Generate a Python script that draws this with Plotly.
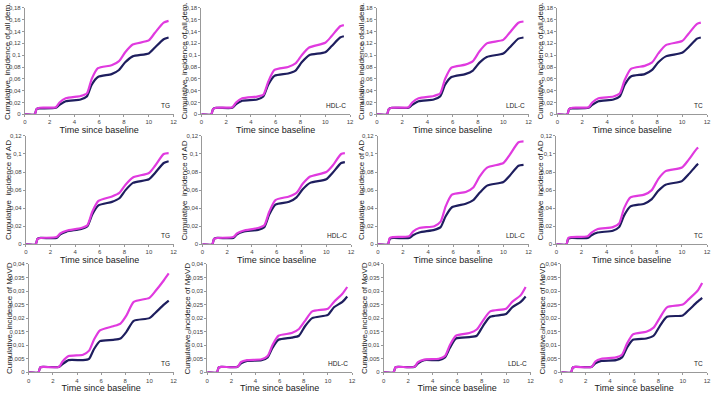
import plotly.graph_objects as go

# common time grid (years since baseline)
TIMES = [0, 0.8, 0.95, 1.2, 2.5, 2.8, 3.3, 4.5, 5.0, 5.4, 5.9, 7.0, 7.6, 8.1, 8.7, 10.0, 10.5, 11.2, 11.6]
END_TIME = [11.6, 11.5, 11.6, 11.5, 11.6, 11.5, 11.6, 11.3, 11.6, 11.6, 11.6, 11.6]

PANEL_LABELS = ["TG", "HDL-C", "LDL-C", "TC"] * 3
Y_TITLES = ["Cumulative  incidence of all dem.", "Cumulative  incidence of AD", "Cumulative  incidence of MoVD"]
X_TITLE = "Time since baseline"

Y_MAX = [0.18, 0.12, 0.04]
Y_TICKS = [
    [0, 0.02, 0.04, 0.06, 0.08, 0.1, 0.12, 0.14, 0.16, 0.18],
    [0, 0.02, 0.04, 0.06, 0.08, 0.1, 0.12],
    [0, 0.005, 0.01, 0.015, 0.02, 0.025, 0.03, 0.035, 0.04],
]
Y_TICKTEXT = [
    ["0", "0,02", "0,04", "0,06", "0,08", "0,1", "0,12", "0,14", "0,16", "0,18"],
    ["0", "0,02", "0,04", "0,06", "0,08", "0,1", "0,12"],
    ["0", "0,005", "0,01", "0,015", "0,02", "0,025", "0,03", "0,035", "0,04"],
]
X_TICKS = [0, 2, 4, 6, 8, 10, 12]

# magenta curves (higher group)
MAG = [
    [0, 0, 0.009, 0.011, 0.012, 0.020, 0.027, 0.031, 0.035, 0.060, 0.078, 0.083, 0.090, 0.105, 0.118, 0.125, 0.138, 0.155, 0.158],
    [0, 0, 0.009, 0.011, 0.012, 0.020, 0.027, 0.030, 0.033, 0.055, 0.075, 0.080, 0.086, 0.100, 0.113, 0.121, 0.132, 0.149, 0.151],
    [0, 0, 0.009, 0.011, 0.012, 0.020, 0.027, 0.031, 0.035, 0.060, 0.079, 0.084, 0.090, 0.106, 0.120, 0.126, 0.138, 0.155, 0.157],
    [0, 0, 0.009, 0.011, 0.012, 0.020, 0.027, 0.030, 0.035, 0.058, 0.077, 0.082, 0.088, 0.103, 0.117, 0.124, 0.136, 0.153, 0.155],
    [0, 0, 0.006, 0.007, 0.008, 0.012, 0.015, 0.018, 0.021, 0.036, 0.048, 0.053, 0.057, 0.066, 0.074, 0.079, 0.087, 0.100, 0.101],
    [0, 0, 0.006, 0.007, 0.008, 0.012, 0.015, 0.018, 0.021, 0.036, 0.049, 0.053, 0.057, 0.067, 0.075, 0.080, 0.087, 0.100, 0.101],
    [0, 0, 0.007, 0.008, 0.009, 0.014, 0.018, 0.020, 0.025, 0.042, 0.055, 0.058, 0.063, 0.075, 0.085, 0.090, 0.099, 0.113, 0.114],
    [0, 0, 0.007, 0.008, 0.009, 0.013, 0.017, 0.019, 0.023, 0.040, 0.052, 0.055, 0.060, 0.072, 0.081, 0.085, 0.093, 0.106, 0.107],
    [0, 0, 0.0018, 0.002, 0.002, 0.004, 0.006, 0.0065, 0.008, 0.012, 0.0155, 0.017, 0.018, 0.021, 0.026, 0.0275, 0.030, 0.034, 0.0365],
    [0, 0, 0.0018, 0.002, 0.002, 0.0038, 0.0045, 0.0048, 0.006, 0.010, 0.0135, 0.0145, 0.016, 0.019, 0.0225, 0.0235, 0.026, 0.029, 0.0315],
    [0, 0, 0.0018, 0.002, 0.002, 0.0038, 0.0047, 0.005, 0.006, 0.010, 0.0135, 0.0145, 0.0158, 0.019, 0.0225, 0.0235, 0.026, 0.0285, 0.0315],
    [0, 0, 0.0018, 0.002, 0.002, 0.004, 0.005, 0.0055, 0.0065, 0.0105, 0.014, 0.015, 0.0165, 0.020, 0.024, 0.025, 0.027, 0.030, 0.033],
]
# navy curves (lower group)
NAVY = [
    [0, 0, 0.009, 0.010, 0.011, 0.016, 0.022, 0.025, 0.030, 0.050, 0.063, 0.068, 0.075, 0.088, 0.098, 0.103, 0.113, 0.127, 0.130],
    [0, 0, 0.009, 0.011, 0.011, 0.017, 0.023, 0.025, 0.030, 0.050, 0.065, 0.069, 0.074, 0.088, 0.100, 0.105, 0.115, 0.130, 0.132],
    [0, 0, 0.009, 0.011, 0.011, 0.016, 0.022, 0.025, 0.030, 0.050, 0.063, 0.068, 0.074, 0.087, 0.097, 0.103, 0.113, 0.128, 0.130],
    [0, 0, 0.009, 0.010, 0.011, 0.016, 0.022, 0.025, 0.030, 0.050, 0.064, 0.068, 0.075, 0.088, 0.098, 0.104, 0.113, 0.128, 0.130],
    [0, 0, 0.006, 0.007, 0.007, 0.011, 0.014, 0.017, 0.020, 0.033, 0.043, 0.047, 0.051, 0.060, 0.068, 0.072, 0.079, 0.090, 0.092],
    [0, 0, 0.006, 0.007, 0.007, 0.011, 0.014, 0.016, 0.019, 0.033, 0.044, 0.047, 0.052, 0.061, 0.068, 0.072, 0.079, 0.090, 0.091],
    [0, 0, 0.006, 0.007, 0.007, 0.010, 0.013, 0.016, 0.019, 0.031, 0.041, 0.045, 0.049, 0.057, 0.065, 0.069, 0.076, 0.087, 0.088],
    [0, 0, 0.006, 0.007, 0.007, 0.010, 0.013, 0.015, 0.019, 0.032, 0.042, 0.045, 0.050, 0.059, 0.066, 0.070, 0.077, 0.088, 0.089],
    [0, 0, 0.0018, 0.002, 0.002, 0.003, 0.0045, 0.0045, 0.005, 0.0085, 0.0115, 0.012, 0.0125, 0.015, 0.019, 0.020, 0.022, 0.025, 0.0265],
    [0, 0, 0.0018, 0.002, 0.002, 0.0033, 0.0042, 0.0045, 0.0055, 0.009, 0.012, 0.0128, 0.0135, 0.017, 0.020, 0.0212, 0.024, 0.026, 0.028],
    [0, 0, 0.0018, 0.002, 0.002, 0.0033, 0.0045, 0.0045, 0.0055, 0.009, 0.0125, 0.013, 0.0135, 0.017, 0.0205, 0.0215, 0.024, 0.026, 0.028],
    [0, 0, 0.0018, 0.002, 0.002, 0.0033, 0.0042, 0.0045, 0.0055, 0.009, 0.012, 0.0125, 0.0135, 0.017, 0.0205, 0.021, 0.023, 0.026, 0.0275],
]

W, H = 716, 395
# plot-area pixel boxes per panel (left, right) and row (top, bottom)
COL_X = [[(23, 173), (201, 351), (378, 531), (560, 711)],
         [(24, 173), (202, 352), (379, 531), (559, 711)],
         [(27, 173), (207, 353), (385, 533), (564, 711)]]
ROW_Y = [(5, 113), (135, 245), (265, 375)]
YTITLE_X = [[5, 184, 362, 543], [6, 184, 362, 543], [7, 187, 365, 545]]

MAG_COLOR = "#E03ADF"
NAVY_COLOR = "#1E1E5E"
FONT = "Liberation Sans, Arial, sans-serif"

fig = go.Figure()
annotations = []
for i in range(12):
    r, c = divmod(i, 4)
    xa = "x" if i == 0 else f"x{i+1}"
    ya = "y" if i == 0 else f"y{i+1}"
    t = TIMES[:-1] + [END_TIME[i]]
    for vals, col in ((NAVY[i], NAVY_COLOR), (MAG[i], MAG_COLOR)):
        fig.add_trace(go.Scatter(
            x=t, y=vals, xaxis=xa, yaxis=ya, mode="lines",
            line=dict(color=col, width=2.2, shape="spline", smoothing=0.6),
            showlegend=False, hoverinfo="skip"))
    x0, x1 = COL_X[r][c]
    y0, y1 = ROW_Y[r]
    axkey = "xaxis" if i == 0 else f"xaxis{i+1}"
    aykey = "yaxis" if i == 0 else f"yaxis{i+1}"
    fig.update_layout(**{
        axkey: dict(domain=[x0 / W, x1 / W], anchor=ya, range=[0, 12],
                    tickvals=X_TICKS, ticks="outside", ticklen=2, tickcolor="#999",
                    showline=True, linecolor="#999", linewidth=1, showgrid=False,
                    zeroline=False, tickfont=dict(size=6, color="#444", family=FONT),
                    title=dict(text=X_TITLE, font=dict(size=9, color="#222", family=FONT), standoff=2)),
        aykey: dict(domain=[1 - y1 / H, 1 - y0 / H], anchor=xa, range=[0, Y_MAX[r]],
                    tickvals=Y_TICKS[r], ticktext=Y_TICKTEXT[r], ticks="outside", ticklen=2,
                    tickcolor="#999", showline=True, linecolor="#999", linewidth=1,
                    showgrid=False, zeroline=False,
                    tickfont=dict(size=6, color="#444", family=FONT)),
    })
    annotations.append(dict(
        x=(YTITLE_X[r][c]) / W, y=1 - (y0 + y1) / 2 / H, xref="paper", yref="paper",
        text=Y_TITLES[r], textangle=-90, showarrow=False,
        font=dict(size=8, color="#222", family=FONT), xanchor="center", yanchor="middle"))
    annotations.append(dict(
        x=12, y=0, xref=xa, yref=ya, text=PANEL_LABELS[i], showarrow=False,
        xanchor="right", yanchor="bottom", xshift=-2, yshift=3,
        font=dict(size=6.5, color="#222", family=FONT)))

fig.update_layout(width=W, height=H, margin=dict(l=0, r=0, t=0, b=0),
                  plot_bgcolor="white", paper_bgcolor="white",
                  annotations=annotations, separators=",.")
fig.write_html("out.html", config={"displayModeBar": False},
               post_script="document.body.style.margin='0';")
